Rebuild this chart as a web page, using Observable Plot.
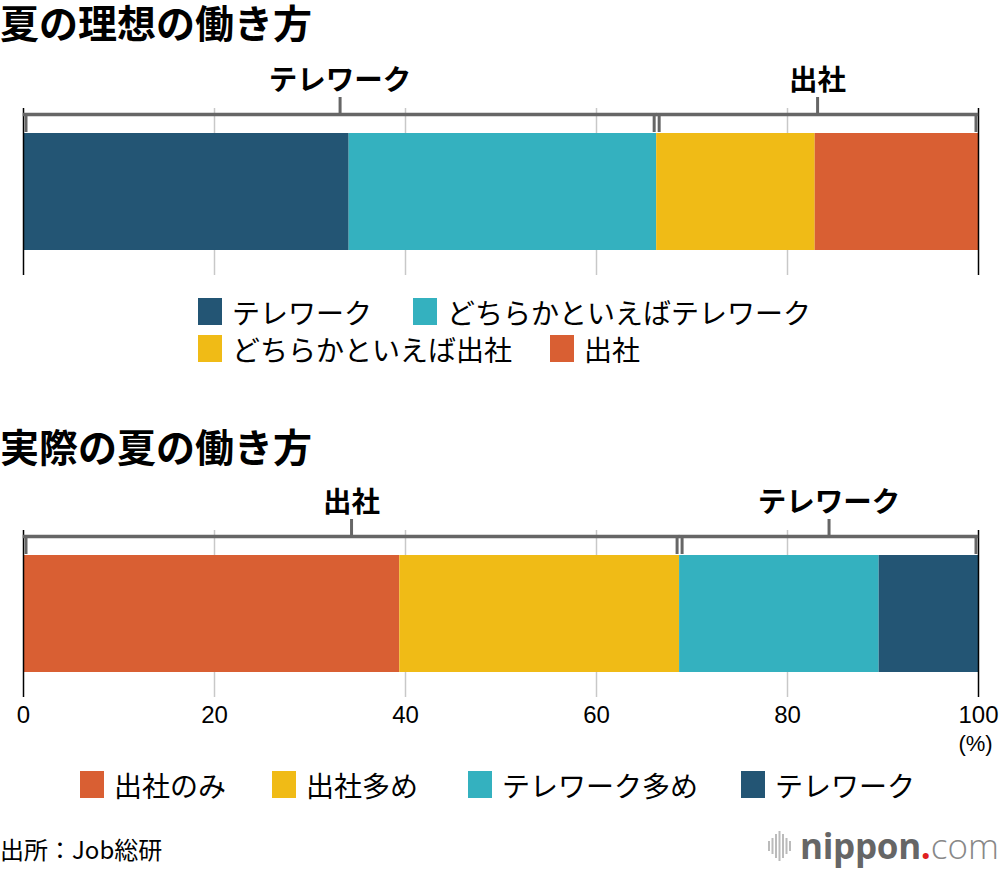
<!DOCTYPE html>
<html><head><meta charset="utf-8">
<script src="https://cdn.jsdelivr.net/npm/d3@7"></script>
<script src="https://cdn.jsdelivr.net/npm/@observablehq/plot@0.6"></script>
<style>
body{margin:0;background:#fff;font-family:"Noto Sans CJK JP",sans-serif;color:#000;}
#page{position:relative;width:1000px;height:870px;overflow:hidden;}
.title{position:absolute;left:0;font-size:39px;font-weight:bold;line-height:1;white-space:nowrap;}
.chart{position:absolute;left:0;}
.item{position:absolute;display:flex;align-items:center;white-space:nowrap;font-size:28px;line-height:1;height:27px;}
.sw{width:24px;height:27px;margin-right:10px;flex:none;}
#source{position:absolute;left:0;top:837px;font-size:24px;line-height:1;}
#logo{position:absolute;left:768px;top:828px;display:flex;align-items:center;}
</style></head>
<body><div id="page">
<div class="title" style="top:2px">夏の理想の働き方</div>
<div class="chart" id="c1" style="top:55px"></div>
<div class="title" style="top:426px">実際の夏の働き方</div>
<div class="chart" id="c2" style="top:470px"></div>
<div id="source">出所：Job総研</div>
<div id="logo"></div>
</div>
<script>
// ---- data ----
const idealCategories = ["テレワーク", "どちらかといえばテレワーク", "どちらかといえば出社", "出社"];
const idealValues = [34.1, 32.2, 16.6, 17.1];
const idealGroups = ["テレワーク", "テレワーク", "出社", "出社"];
const actualCategories = ["出社のみ", "出社多め", "テレワーク多め", "テレワーク"];
const actualValues = [39.4, 29.3, 20.9, 10.4];
const actualGroups = ["出社", "出社", "テレワーク", "テレワーク"];
const xTicks = [0, 20, 40, 60, 80, 100];
const gridTicks = [20, 40, 60, 80];
const unitLabel = "(%)";

// ---- styles / layout ----
const C_DARK = "#235574", C_TEAL = "#34b1bf", C_YEL = "#f0bb16", C_ORG = "#d95f33";
const idealColors = [C_DARK, C_TEAL, C_YEL, C_ORG];
const actualColors = [C_ORG, C_YEL, C_TEAL, C_DARK];
const idealLegendPos = [[198, 298], [413, 298], [198, 335], [550, 335]];
const actualLegendPos = [[80, 771], [272, 771], [468, 771], [741, 771]];

function drawChart(cats, vals, groups, colors, opts) {
  const ends = d3.cumsum(vals);
  const rows = cats.map((c, i) => ({cat: c, x1: i ? ends[i - 1] : 0, x2: ends[i], color: colors[i], group: groups[i]}));
  const grp = d3.groups(rows, d => d.group).map(([g, rs]) => {
    const x1 = d3.min(rs, d => d.x1), x2 = d3.max(rs, d => d.x2);
    return {group: g, x1, x2, mid: (x1 + x2) / 2};
  });
  const H = opts.height, mT = opts.marginTop, mB = opts.marginBottom;
  const fT = mT, fB = H - mB;
  const barTop = fT + 25, barBot = fB - 25;
  const brY = barTop - 19, legBot = barTop - 1, tickTop = brY - 17, labelY = brY - 34;
  const bracketStyle = {stroke: "#666", strokeWidth: 3.5};
  const marks = [
    Plot.ruleX(gridTicks, {stroke: "#c8c8c8", strokeWidth: 1.5}),
    Plot.rect(rows, {x1: "x1", x2: "x2", y1: barTop, y2: barBot, fill: "color"}),
    Plot.ruleX([0, 100], {stroke: "#000", strokeWidth: 1.5}),
    // brackets
    Plot.ruleY(grp, {x1: "x1", x2: "x2", y: brY, insetLeft: 1.5, insetRight: 1.5, ...bracketStyle, strokeLinecap: "square"}),
    Plot.ruleX(grp, {x: "x1", y1: brY, y2: legBot, dx: 2.5, ...bracketStyle, strokeWidth: 3}),
    Plot.ruleX(grp, {x: "x2", y1: brY, y2: legBot, dx: -2.5, ...bracketStyle, strokeWidth: 3}),
    Plot.ruleX(grp, {x: "mid", y1: tickTop, y2: brY, ...bracketStyle, strokeWidth: 3}),
    Plot.text(grp, {x: "mid", y: labelY, text: "group", fontSize: 28.5, fontWeight: "bold", fill: "#000", lineAnchor: "middle"})
  ];
  if (opts.axis) {
    marks.push(Plot.axisX(xTicks, {anchor: "bottom", tickSize: 0, tickPadding: 8, fontSize: 24, fill: "#000", tickFormat: d => String(d)}));
    marks.push(Plot.text([100], {x: d => d, y: fB + 46, text: () => unitLabel, fontSize: 22, fill: "#000", lineAnchor: "middle", dx: -3}));
  }
  return Plot.plot({
    width: 1000, height: H,
    marginLeft: 23, marginRight: 22, marginTop: mT, marginBottom: mB,
    x: {domain: [0, 100], axis: null},
    y: {type: "identity", axis: null},
    style: {fontFamily: "'Liberation Sans','Noto Sans CJK JP',sans-serif", background: "transparent", overflow: "visible"},
    marks
  });
}

document.getElementById("c1").appendChild(drawChart(idealCategories, idealValues, idealGroups, idealColors, {height: 225, marginTop: 53, marginBottom: 5, axis: false}));
document.getElementById("c2").appendChild(drawChart(actualCategories, actualValues, actualGroups, actualColors, {height: 290, marginTop: 60, marginBottom: 63, axis: true}));

function legend(cats, colors, pos) {
  const page = document.getElementById("page");
  cats.forEach((c, i) => {
    const it = document.createElement("div");
    it.className = "item";
    it.style.left = pos[i][0] + "px";
    it.style.top = pos[i][1] + "px";
    const sw = document.createElement("div");
    sw.className = "sw"; sw.style.background = colors[i];
    const t = document.createElement("span");
    t.textContent = c;
    it.appendChild(sw); it.appendChild(t);
    page.appendChild(it);
  });
}
legend(idealCategories, idealColors, idealLegendPos);
legend(actualCategories, actualColors, actualLegendPos);

// logo
const logo = document.getElementById("logo");
const bars = [10, 16, 24, 30, 24, 16, 10];
let svg = '<svg width="26" height="34" style="margin-right:6px">';
bars.forEach((h, i) => { svg += `<rect x="${i * 3.5}" y="${17 - h / 2}" width="2" height="${h}" fill="#bbb"/>`; });
svg += '</svg>';
logo.innerHTML = svg + '<span style="font-family:\'Open Sans\',sans-serif;font-size:35px;line-height:1;color:#666;font-weight:700;letter-spacing:-0.3px">nippon</span><span style="font-family:\'Open Sans\',sans-serif;font-size:35px;line-height:1;color:#e02020;font-weight:700">.</span><span style="font-family:\'Open Sans\',sans-serif;font-size:35px;line-height:1;color:#888;font-weight:300">com</span>';
</script>
</body></html>
